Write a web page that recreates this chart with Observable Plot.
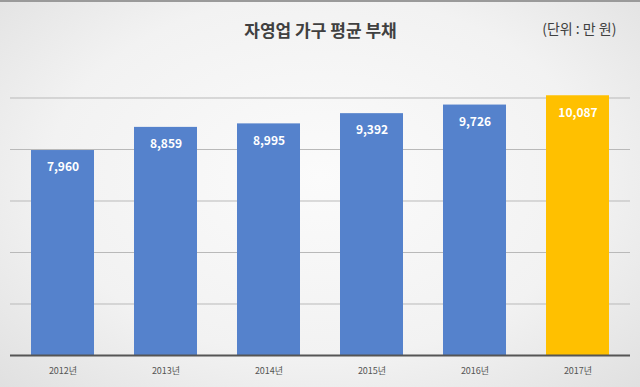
<!DOCTYPE html>
<html>
<head>
<meta charset="utf-8">
<script src="https://cdn.jsdelivr.net/npm/d3@7"></script>
<script src="https://cdn.jsdelivr.net/npm/@observablehq/plot@0.6"></script>
<style>
  html, body { margin: 0; padding: 0; background: #eeeeee; }
  #chart svg { display: block; }
</style>
</head>
<body>
<div id="chart"></div>
<script>
const years = ["2012년", "2013년", "2014년", "2015년", "2016년", "2017년"];
const debts = [7960, 8859, 8995, 9392, 9726, 10087];
const barColors = ["#5582cc", "#5582cc", "#5582cc", "#5582cc", "#5582cc", "#ffc000"];
const gridTicks = [2000, 4000, 6000, 8000, 10000];
const title = "자영업 가구 평균 부채";
const unit = "(단위 : 만 원)";

const data = years.map((y, i) => ({year: y, value: debts[i], color: barColors[i]}));
const fmt = d3.format(",");
const font = "'Noto Sans CJK KR', 'Noto Sans', sans-serif";

const chart = Plot.plot({
  width: 640,
  height: 387,
  marginTop: 44,
  marginBottom: 34,
  marginLeft: 10,
  marginRight: 10,
  style: {
    background: "radial-gradient(ellipse at 50% 45%, #fbfbfb 0%, #f2f2f2 60%, #e0e0e0 100%)",
    fontFamily: font,
    borderTop: "2px solid #9a9a9a"
  },
  x: {domain: years, paddingInner: 0.39, paddingOuter: 0.195, label: null},
  y: {domain: [0, 12000], axis: null},
  marks: [
    Plot.ruleY(gridTicks, {stroke: "#b9b9b9", strokeWidth: 1}),
    Plot.barY(data, {x: "year", y: "value", fill: "color"}),
    Plot.ruleY([0], {stroke: "#555555", strokeWidth: 2}),
    Plot.text(data, {x: "year", y: "value", text: d => fmt(d.value), dy: 17, fill: "white", fontWeight: "bold", fontSize: 12}),
    Plot.axisX({tickSize: 0, tickPadding: 12, fontSize: 9, color: "#555555", label: null}),
    Plot.text([title], {frameAnchor: "top", dy: -22, fontSize: 17, fontWeight: "bold", fill: "#404040"}),
    Plot.text([unit], {frameAnchor: "top-right", dx: -14, dy: -22, fontSize: 14, fill: "#404040", textAnchor: "end"})
  ]
});
document.getElementById("chart").appendChild(chart);
</script>
</body>
</html>
